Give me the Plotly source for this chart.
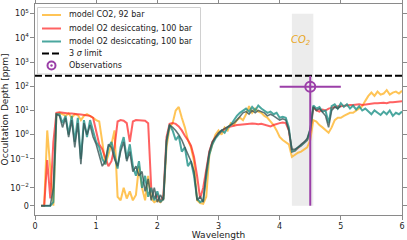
import numpy as np
import plotly.graph_objects as go

# ---------------- data (ppm) ----------------
wavelength = np.round(np.arange(0.10, 6.001, 0.05), 2)

co2_92bar = [
    0, 0, 1.5, 0.05, 0, 7, 8, 7, 6, 7.5,
    5, 7, 6.5, 4, 6, 7, 6, 5, 4, 3.5,
    0.5, 0.06, 0.15, 0.4, 1.5, 0.005, 0.003, 0.01, 0.004, 0.008,
    0.003, 0.006, 0.05, 0.01, 0.003, 0.02, 0.004, 0.002, 0.003, 0.002,
    0.004, 0.3, 2, 3, 10, 14, 5, 2, 0.6, 0.3,
    0.08, 0.003, 0.0015, 0.001, 0.005, 0.15, 0.4, 1, 1.5, 1,
    2, 1.5, 3, 2.5, 4, 5, 4, 7, 15, 8,
    12, 9, 8, 6, 5, 3.5, 2.5, 1.5, 0.8, 0.6,
    0.5, 0.4, 0.12, 0.15, 0.18, 0.2, 0.25, 0.3, 0.6, 4,
    3.5, 2.5, 2, 1.5, 1.2, 2, 4, 5, 5, 6,
    7, 8, 8, 10, 12, 15, 25, 40, 55, 40,
    60, 45, 50, 70, 45, 55, 60, 50, 65,
]

o2_desic_a = [
    0, 0, 0.09, 0.004, 0.5, 8, 8.5, 8, 7.8, 7.5,
    7.5, 7, 7, 6.8, 6.5, 6.3, 6, 5, 1.2, 0.4,
    0.25, 0.12, 0.05, 0.08, 0.3, 3.5, 4, 3.8, 3, 0.5,
    3.5, 4, 4, 4, 3.8, 3, 0.01, 0.004, 0.006, 0.002,
    0.006, 0.8, 2.8, 3, 2.8, 2.2, 1.5, 0.9, 0.6, 0.35,
    0.12, 0.02, 0.004, 0.01, 0.04, 0.2, 0.5, 0.8, 1.1, 1.4,
    1.7, 2, 2.2, 2.4, 2.5, 2.6, 2.7, 2.8, 2.8, 2.9,
    2.8, 2.7, 2.8, 2.6, 2.4, 2.2, 2.5, 2.8, 3, 3.2,
    3, 1.5, 0.2, 0.22, 0.28, 0.35, 0.45, 0.6, 1.2, 14,
    10, 9, 11, 10, 12, 13, 14, 15, 15, 16,
    16, 17, 17, 18, 18, 17, 18, 19, 19, 20,
    20, 21, 21, 20, 22, 22, 23, 23, 24,
]

o2_desic_b = [
    0, 0, 0, 0, 0.002, 7, 7, 3, 6, 1,
    6, 0.5, 5, 0.1, 4, 0.8, 4, 1.5, 0.5, 0.3,
    0.1, 0.06, 0.3, 0.5, 0.15, 0.04, 0.3, 0.8, 0.1, 0.4,
    0.05, 0.02, 0.08, 0.01, 0.02, 0.005, 0.01, 0.003, 0.008, 0.002,
    0.004, 0.5, 2.5, 1.5, 0.6, 0.9, 0.2, 0.3, 0.05, 0.08,
    0.02, 0.004, 0.002, 0.003, 0.02, 0.15, 0.4, 0.7, 1, 1.5,
    1.2, 2, 2.5, 4, 6, 8, 10, 12, 9, 14,
    10, 16, 12, 10, 8, 9, 7, 8, 5, 5.5,
    5, 2, 0.2, 0.22, 0.3, 0.35, 0.45, 0.6, 1.5, 16,
    12, 14, 9, 10, 3, 15, 18, 12, 20, 14,
    18, 12, 16, 11, 15, 10, 12, 9, 7, 10,
    8, 6.5, 9, 7, 10, 6, 8, 7, 9,
]

# unlabeled dark model curve (0.10 - 5.00 um)
o2_dark = [
    0, 0, 0, 0, 0.01, 7, 6, 2, 5, 0.8,
    4, 0.3, 3, 0.06, 3, 1, 2.5, 0.8, 0.4, 0.15,
    0.05, 0.08, 0.4, 0.3, 0.1, 0.05, 0.2, 0.5, 0.08, 0.2,
    0.03, 0.05, 0.02, 0.03, 0.008, 0.015, 0.003, 0.01, 0.002, 0.006,
    0.003, 0.6, 2.5, 2, 1.5, 1, 0.6, 0.3, 0.15, 0.08,
    0.03, 0.003, 0.005, 0.002, 0.03, 0.2, 0.5, 0.8, 1.2, 1.5,
    1.8, 2.2, 2.5, 3, 4, 6, 8, 9, 7, 10,
    8, 10, 9, 8, 6, 7, 6, 5, 4, 4.5,
    4, 1.5, 0.25, 0.25, 0.3, 0.4, 0.5, 0.7, 1.8, 14,
    10, 12, 8, 6, 2, 10, 14, 12, 15,
]

limit_3sigma = 270
obs_wavelength = [4.5]
obs_depth = [95]
obs_xerr = [0.5]
obs_upper = [270]
obs_lower = [0]
co2_band = [4.2, 4.55]
band_ymax = 1e5

ytick_values = [0, 1e-2, 1e-1, 1e0, 1e1, 1e2, 1e3, 1e4, 1e5]
ytick_labels = ["0", "10<sup>−2</sup>", "10<sup>−1</sup>", "10<sup>0</sup>", "10<sup>1</sup>",
                "10<sup>2</sup>", "10<sup>3</sup>", "10<sup>4</sup>", "10<sup>5</sup>"]
xtick_values = [0, 1, 2, 3, 4, 5, 6]

legend_labels = ["model CO2, 92 bar", "model O2 desiccating, 100 bar",
                 "model O2 desiccating, 100 bar", "3 <i>σ</i> limit", "Observations"]

assert len(co2_92bar) == len(wavelength) == len(o2_desic_a) == len(o2_desic_b)

# ---------------- symlog scale ----------------
LINTHRESH = 0.015
LINSCALE = 1.0 / (1 - 0.1)


def symlog(v):
    v = np.asarray(v, dtype=float)
    return np.where(v <= LINTHRESH, v / LINTHRESH * LINSCALE,
                    LINSCALE + np.log10(np.maximum(v, LINTHRESH) / LINTHRESH))


FONT = "DejaVu Sans"
ORANGE = "rgba(255,176,30,0.75)"
RED = "rgba(255,45,45,0.75)"
TEAL = "rgba(30,145,135,0.8)"
DARK = "rgba(55,85,85,0.8)"
PURPLE = "#9B3FA8"
DASH = "7px,3px"

# plot-area geometry in page pixels (for placing the legend box)
W, H = 407, 240
ML, MR, MT, MB = 35, 5, 4, 25
PW, PH = W - ML - MR, H - MT - MB


def px(x):
    return (x - ML) / PW


def py(y):
    return (H - MB - y) / PH


fig = go.Figure()

fig.add_shape(type="rect", x0=co2_band[0], x1=co2_band[1],
              y0=float(symlog(0)), y1=float(symlog(band_ymax)),
              fillcolor="rgba(220,220,220,0.55)", line_width=0, layer="below")

fig.add_trace(go.Scatter(x=wavelength, y=symlog(co2_92bar), mode="lines",
                         line=dict(color=ORANGE, width=2), name=legend_labels[0]))
fig.add_trace(go.Scatter(x=wavelength, y=symlog(o2_desic_a), mode="lines",
                         line=dict(color=RED, width=2), name=legend_labels[1]))
fig.add_trace(go.Scatter(x=wavelength, y=symlog(o2_desic_b), mode="lines",
                         line=dict(color=TEAL, width=2), name=legend_labels[2]))
fig.add_trace(go.Scatter(x=wavelength[:len(o2_dark)], y=symlog(o2_dark), mode="lines",
                         line=dict(color=DARK, width=1.6)))

fig.add_trace(go.Scatter(x=[0, 6], y=symlog([limit_3sigma, limit_3sigma]), mode="lines",
                         line=dict(color="black", width=2, dash=DASH), name=legend_labels[3]))

oy = symlog(obs_depth)
fig.add_trace(go.Scatter(
    x=obs_wavelength, y=oy, mode="markers", name=legend_labels[4],
    marker=dict(symbol="circle-open-dot", size=10, color=PURPLE, line=dict(width=2, color=PURPLE)),
    error_x=dict(type="data", array=obs_xerr, color=PURPLE, thickness=2, width=0),
    error_y=dict(type="data", array=symlog(obs_upper) - oy, arrayminus=oy - symlog(obs_lower),
                 color=PURPLE, thickness=2, width=0),
))

fig.add_annotation(x=4.35, y=float(symlog(8000)), text="<i>CO<sub>2</sub></i>", showarrow=False,
                   font=dict(family=FONT, size=10, color="#E8A520"))

# ---------------- legend (drawn compactly, matplotlib-like) ----------------
fig.add_shape(type="rect", xref="paper", yref="paper", x0=px(37.5), x1=px(200.5),
              y0=py(74), y1=py(7.5), fillcolor="rgba(255,255,255,0.85)",
              line=dict(color="#d0d0d0", width=1), layer="above")
leg_y = [15, 28.5, 41.5, 53.5, 65.5]
leg_styles = [dict(color=ORANGE, width=2), dict(color=RED, width=2),
              dict(color=TEAL, width=2), dict(color="black", width=2, dash=DASH)]
for yy, st in zip(leg_y[:4], leg_styles):
    fig.add_shape(type="line", xref="paper", yref="paper", x0=px(42), x1=px(61),
                  y0=py(yy), y1=py(yy), line=st, layer="above")
fig.add_shape(type="circle", xref="paper", yref="paper", x0=px(47.5), x1=px(55.5),
              y0=py(69.5), y1=py(61.5), line=dict(color=PURPLE, width=2), layer="above")
fig.add_shape(type="circle", xref="paper", yref="paper", x0=px(50.3), x1=px(52.7),
              y0=py(66.7), y1=py(64.3), fillcolor=PURPLE, line=dict(color=PURPLE, width=0),
              layer="above")
for yy, lab in zip(leg_y, legend_labels):
    fig.add_annotation(xref="paper", yref="paper", x=px(66.5), y=py(yy), text=lab,
                       xanchor="left", yanchor="middle", showarrow=False,
                       font=dict(family=FONT, size=8, color="#222"))

axis_common = dict(showline=True, linecolor="#8a8a8a", linewidth=1.2, mirror="ticks",
                   ticks="outside", ticklen=3.5, tickcolor="#8a8a8a", tickwidth=1,
                   showgrid=False, zeroline=False, automargin=False,
                   tickfont=dict(family=FONT, size=8, color="#222"))

fig.update_xaxes(range=[0, 6], tickvals=xtick_values,
                 title=dict(text="Wavelength", font=dict(family=FONT, size=9, color="#222"), standoff=0),
                 **axis_common)
fig.update_yaxes(range=[-0.384, 8.335], tickvals=symlog(ytick_values), ticktext=ytick_labels,
                 title=dict(text="Occultation Depth [ppm]", font=dict(family=FONT, size=9, color="#222"),
                            standoff=4),
                 **axis_common)

fig.update_layout(
    width=W, height=H,
    margin=dict(l=ML, r=MR, t=MT, b=MB),
    paper_bgcolor="white", plot_bgcolor="white",
    showlegend=False,
)

fig.write_html("out.html", config={"displayModeBar": False},
               post_script="document.body.style.margin='0';document.body.style.overflow='hidden';")
